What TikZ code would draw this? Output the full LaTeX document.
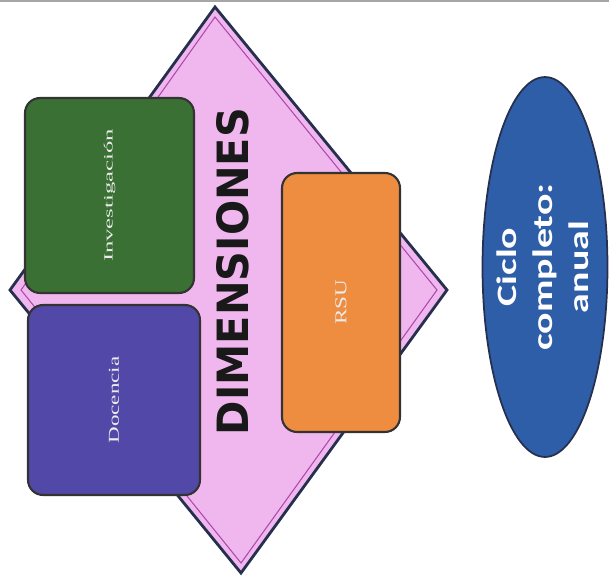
\documentclass[tikz,border=0pt]{standalone}
\usepackage{fontspec}
\usepackage{graphicx}
\usepackage{tikz}
\usetikzlibrary{shapes.geometric}
\setmainfont{Liberation Serif}
\newfontfamily\dimfont{DejaVu Sans}
\newfontfamily\ciclofont{Carlito}

\definecolor{rombo}{RGB}{240,182,238}
\definecolor{borde}{RGB}{38,48,78}
\definecolor{verde}{RGB}{58,112,52}
\definecolor{morado}{RGB}{82,72,168}
\definecolor{naranja}{RGB}{238,140,64}
\definecolor{azul}{RGB}{46,94,168}

\begin{document}
\begin{tikzpicture}[x=0.02cm,y=-0.02cm,
  caja/.style={draw=black!80, line width=1.2pt, rounded corners=0.3cm, inner sep=0pt, text=white!92!black}]
\useasboundingbox (0,0) rectangle (609,578);
\draw[gray!70, line width=1.5pt] (0,1)--(609,1);

\draw[fill=rombo, draw=borde, line width=1.6pt] (215,7)--(447,290)--(241,573)--(10,290)--cycle;
\draw[violet!60!rombo, line width=0.6pt] (215,17)--(437,290)--(241,563)--(21,290)--cycle;

\node[caja, fill=verde, minimum width=3.38cm, minimum height=3.9cm] (inv) at (109.5,195.5)
  {\rotatebox{90}{\resizebox*{2.66cm}{0.23cm}{Investigación}}};
\node[caja, fill=morado, minimum width=3.44cm, minimum height=3.8cm] (doc) at (114,400)
  {\rotatebox{90}{\resizebox{1.74cm}{0.2cm}{Docencia}}};
\node[caja, fill=naranja, minimum width=2.36cm, minimum height=5.18cm] (rsu) at (341,302.5)
  {\rotatebox{90}{\resizebox{0.9cm}{0.22cm}{RSU}}};

\node[inner sep=0pt, text=black!90] (dim) at (233,271.5)
  {\rotatebox{90}{\resizebox{6.54cm}{0.64cm}{\dimfont\bfseries DIMENSIONES}}};

\node[ellipse, draw=borde, line width=1pt, fill=azul, minimum width=2.5cm, minimum height=7.6cm,
  inner sep=0pt] (ciclo) at (545,267) {};
\node[inner sep=0pt, text=white] (ciclotxt) at (ciclo.center)
  {\rotatebox{90}{\scalebox{1.42}[1]{\ciclofont\bfseries\fontsize{16}{20.5}\selectfont
   \begin{tabular}{@{}c@{}}Ciclo\\completo:\\anual\end{tabular}}}};
\end{tikzpicture}
\end{document}
